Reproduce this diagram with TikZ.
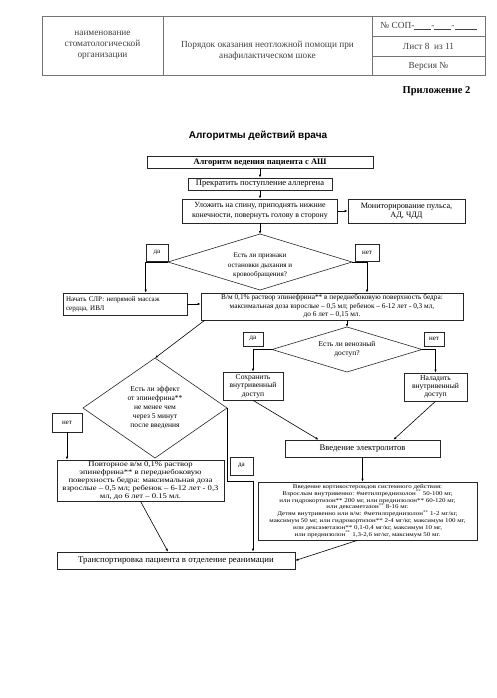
\documentclass[tikz,border=0pt]{standalone}
\usepackage{fontspec}
\setmainfont{Liberation Serif}
\newfontfamily\arialfont{Liberation Sans}
\newfontfamily\wideserif[FakeStretch=1.2]{Liberation Serif}
\usetikzlibrary{shapes.geometric,arrows.meta}

\begin{document}
\begin{tikzpicture}[x=1pt,y=-1pt,line width=0.6pt,
    box/.style={draw=black!85, rectangle, inner sep=1pt, align=center, font=\fontsize{7.5}{8.5}\selectfont},
    yesno/.style={draw=black!85, rectangle, inner sep=0pt, font=\fontsize{7}{8}\selectfont},
    ask/.style={draw=black!85, diamond, inner sep=0pt, outer sep=0pt, align=center, font=\fontsize{7.5}{9}\selectfont},
    cell/.style={align=center, text=black!75, font=\fontsize{9.3}{11}\selectfont},
    arr/.style={-{Latex[length=3pt,width=2.4pt]}}]
    \useasboundingbox (0,0) rectangle (497,698);
    \draw [black!55, line width=0.5pt] (42,16) rectangle (485,75);
    \draw [black!55, line width=0.5pt] (163,16) -- (163,75) (372,16) -- (372,75) (372,36) -- (485,36) (372,56) -- (485,56);
    \node [cell] (org) at (102.5,45.5) {наименование\\стоматологической\\организации};
    \node [cell] (docname) at (267.5,50.5) {Порядок оказания неотложной помощи при\\анафилактическом шоке};
    \node [cell] (sop) at (428.5,26) {№ СОП-\underline{\hspace{17pt}}-\underline{\hspace{17pt}}-\underline{\hspace{22pt}}};
    \node [cell] (sheet) at (428.5,46) {Лист 8 \ из 11};
    \node [cell] (version) at (428.5,66) {Версия №};
    \node [anchor=east, font=\bfseries\fontsize{10.5}{12}\selectfont] (annex) at (474,91) {Приложение 2};
    \node [font=\arialfont\bfseries\fontsize{10}{12}\selectfont] (title) at (258,136) {Алгоритмы действий врача};
    \node [box, font=\bfseries\fontsize{8.5}{9}\selectfont, minimum width=226pt, minimum height=12pt] (b1) at (260,162.5) {Алгоритм ведения пациента с АШ};
    \node [box, font=\fontsize{8.5}{9}\selectfont, minimum width=144pt, minimum height=12pt] (b2) at (260,184) {Прекратить поступление аллергена};
    \node [box, font=\fontsize{7.9}{10.5}\selectfont, minimum width=155pt, minimum height=24pt] (b3) at (260,211) {Уложить на спину, приподнять нижние\\конечности, повернуть голову в сторону};
    \node [box, font=\fontsize{8.2}{9}\selectfont, minimum width=117pt, minimum height=24pt] (b4) at (406.5,211) {Мониторирование пульса,\\АД, ЧДД};
    \node [ask, font=\fontsize{7.1}{9.5}\selectfont, aspect=3.3, minimum width=184pt, minimum height=56pt] (d1) at (260,262) {\rule{0pt}{12pt}Есть ли признаки\\остановки дыхания и\\кровообращения?};
    \node [yesno, minimum width=22pt, minimum height=17pt] (da1) at (157,252.5) {да};
    \node [yesno, minimum width=24pt, minimum height=17pt] (net1) at (367,252.5) {нет};
    \node [box, font=\fontsize{7}{9}\selectfont, align=left, text width=118pt, minimum width=124pt, minimum height=22pt] (slr) at (125,304) {Начать СЛР: непрямой массаж\\сердца, ИВЛ};
    \node [box, font=\fontsize{7.3}{8.5}\selectfont, minimum width=262pt, minimum height=27pt] (epi) at (332,306.5) {В/м 0,1\% раствор эпинефрина** в переднебоковую поверхность бедра:\\максимальная доза взрослые – 0,5 мл; ребенок – 6-12 лет - 0,3 мл,\\до 6 лет – 0,15 мл.};
    \node [ask, aspect=3.33, minimum width=150pt, minimum height=45pt] (d2) at (347,349.5) {Есть ли венозный\\доступ?};
    \node [yesno, minimum width=20pt, minimum height=14pt] (da2) at (253,339) {да};
    \node [yesno, minimum width=20pt, minimum height=14pt] (net2) at (434,339) {нет};
    \node [box, font=\fontsize{7.6}{8.3}\selectfont, minimum width=60pt, minimum height=28pt] (keep) at (253,386) {Сохранить\\внутривенный\\доступ};
    \node [box, font=\fontsize{7.6}{8.3}\selectfont, minimum width=63pt, minimum height=28pt] (setup) at (435.5,387) {Наладить\\внутривенный\\доступ};
    \node [ask, aspect=1.44, minimum width=144pt, minimum height=100pt] (d3) at (155,408) {Есть ли эффект\\от эпинефрина**\\не менее чем\\через 5 минут\\после введения};
    \node [yesno, minimum width=30pt, minimum height=19pt] (net3) at (67,422.5) {нет};
    \node [yesno, minimum width=23pt, minimum height=18pt] (da3) at (241.5,466) {да};
    \node [box, font=\wideserif\fontsize{7.2}{8.1}\selectfont, minimum width=167pt, minimum height=41pt] (again) at (140.5,480.5) {Повторное в/м 0,1\% раствор\\эпинефрина** в переднебоковую\\поверхность бедра: максимальная доза\\взрослые – 0,5 мл; ребенок – 6-12 лет - 0,3\\мл, до 6 лет – 0.15 мл.};
    \node [box, font=\fontsize{8.6}{9}\selectfont, minimum width=155pt, minimum height=17pt] (elec) at (362.5,448.5) {Введение электролитов};
    \node [box, font=\wideserif\fontsize{5.8}{6.9}\selectfont, minimum width=219pt, minimum height=58pt] (cort) at (367.5,511) {Введение кортикостероидов системного действия:\\Взрослым внутривенно: \#метилпреднизолон\textsuperscript{**} 50-100 мг,\\или гидрокортизон** 200 мг, или преднизолон** 60-120 мг,\\или дексаметазон\textsuperscript{**} 8-16 мг.\\Детям внутривенно или в/м: \#метилпреднизолон\textsuperscript{**} 1-2 мг/кг,\\максимум 50 мг, или гидрокортизон** 2-4 мг/кг, максимум 100 мг,\\или дексаметазон** 0,1-0,4 мг/кг, максимум 10 мг,\\или преднизолон\textsuperscript{**} 1,3-2,6 мг/кг, максимум 50 мг.};
    \node [box, font=\fontsize{8.8}{9}\selectfont, minimum width=238pt, minimum height=17pt] (trans) at (176,560.5) {Транспортировка пациента в отделение реанимации};
    \coordinate (turn) at (253,481);
    \draw [arr] (b1) -- (b2);
    \draw [arr] (b2) -- (b3);
    \draw [arr] (b3) -- (d1);
    \draw [arr] (b3) -- (b4);
    \draw [arr] (d1.west) -| (slr.north -| da1.west);
    \draw [arr] (d1.east) -| (epi.north -| net1);
    \draw [arr] (slr.east) -- (slr.east -| epi.west);
    \draw [arr] (epi.south -| d2.north) -- (d2.north);
    \draw [arr] ([xshift=4pt]epi.south west) -- (d3.north);
    \draw [arr] (d2.west) -| (keep.north);
    \draw [arr] (d2.east) -| (setup.north);
    \draw [arr] (keep.south) -- ([xshift=-44pt]elec.north);
    \draw [arr] (setup.south) -- ([xshift=31pt]elec.north);
    \draw [arr] (elec.south) -- (elec.south |- cort.north);
    \draw [arr] (net3) -- (net3 |- again.north);
    \draw [arr] (d3.east) |- (turn) -- (turn |- trans.north);
    \draw [arr] (again.south) -- ([xshift=-8pt]trans.north);
    \draw [arr] ([xshift=-10pt]cort.south) -- (trans.east);
\end{tikzpicture}
\end{document}
